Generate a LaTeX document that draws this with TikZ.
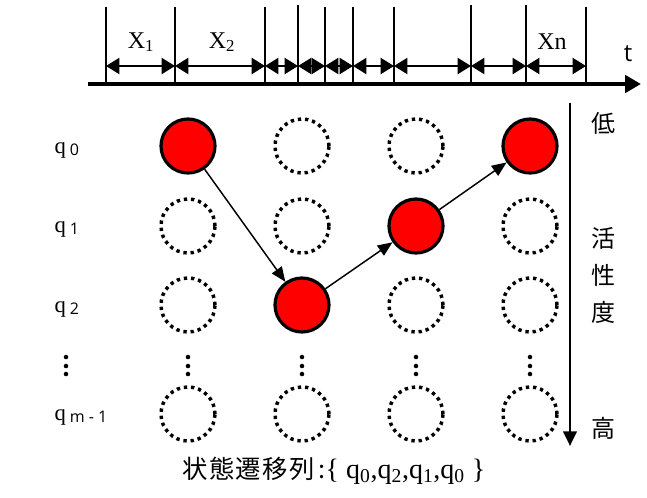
\documentclass[tikz,border=0pt]{standalone}
\usepackage{fontspec}
\setmainfont{Liberation Serif}
\setsansfont{Open Sans}
\newfontfamily\cjk{Noto Sans CJK JP}
\usetikzlibrary{arrows.meta}
\newcommand\qlab[1]{q\,\raisebox{-0.25ex}{\sffamily\fontsize{12}{14}\selectfont #1}}
\begin{document}
\begin{tikzpicture}[x=0.75pt,y=-0.75pt,font=\fontsize{17}{20}\selectfont,
timeAxis/.style={draw=black,line width=3pt,-{Triangle[length=12pt,width=13pt]}},
levelAxis/.style={draw=black,line width=2.2pt,-{Triangle[length=11pt,width=10pt]}},
tick/.style={draw=black,line width=0.9pt},
span/.style={draw=black,line width=1.5pt,{Triangle[length=10pt,width=12pt]}-{Triangle[length=10pt,width=12pt]}},
visited/.style={circle,minimum size=40.5pt,inner sep=0pt,draw=black,line width=2.4pt,fill=red},
unvisited/.style={circle,minimum size=40.5pt,inner sep=0pt,draw=black,line width=2.6pt,dash pattern=on 2.5pt off 2.9pt},
move/.style={draw=black,line width=1.1pt,-{Triangle[length=11pt,width=9pt]}},
cjkText/.style={font=\cjk\fontsize{18}{20}\selectfont}]
\path[use as bounding box] (0,0) rectangle (647,497);
% time axis and intervals
\draw[timeAxis] (88,84)--(641,84);
\draw[tick] (106,7)--(106,84);
\draw[tick] (175,7)--(175,84);
\draw[tick] (265,7)--(265,84);
\draw[tick] (298,5)--(298,84);
\draw[tick] (325,7)--(325,84);
\draw[tick] (353,7)--(353,84);
\draw[tick] (394,7)--(394,84);
\draw[tick] (471,5)--(471,84);
\draw[tick] (526,5)--(526,84);
\draw[tick] (586,7)--(586,84);
\coordinate (k0) at (106,66);
\coordinate (k1) at (175,66);
\coordinate (k2) at (265,66);
\coordinate (k3) at (298,66);
\coordinate (k4) at (325,66);
\coordinate (k5) at (353,66);
\coordinate (k6) at (394,66);
\coordinate (k7) at (471,66);
\coordinate (k8) at (526,66);
\coordinate (k9) at (586,66);
\draw[span] (k0)--(k1);
\draw[span] (k1)--(k2);
\draw[span] (k2)--(k3);
\draw[span] (k3)--(k4);
\draw[span] (k4)--(k5);
\draw[span] (k5)--(k6);
\draw[span] (k6)--(k7);
\draw[span] (k7)--(k8);
\draw[span] (k8)--(k9);
\node[font=\fontsize{18}{20}\selectfont] (xOne) at (141,42) {X\textsubscript{1}};
\node[font=\fontsize{18}{20}\selectfont] (xTwo) at (222,42) {X\textsubscript{2}};
\node[font=\fontsize{18}{20}\selectfont] (xN) at (552,42) {Xn};
\node[font=\sffamily\fontsize{18}{20}\selectfont] (tLabel) at (628,54) {t};
% state labels
\node[anchor=west] (q0) at (50,150) {\qlab{0}};
\node[anchor=west] (q1) at (50,229) {\qlab{1}};
\node[anchor=west] (q2) at (50,309) {\qlab{2}};
\node[anchor=west] (qm) at (50,417) {\qlab{m - 1}};
% states
\node[visited] (c00) at (188,146) {};
\node[unvisited] (c01) at (188,226) {};
\node[unvisited] (c02) at (188,305) {};
\node[unvisited] (c03) at (188,414) {};
\node[unvisited] (c10) at (302,146) {};
\node[unvisited] (c11) at (302,226) {};
\node[visited] (c12) at (302,305) {};
\node[unvisited] (c13) at (302,414) {};
\node[unvisited] (c20) at (416,146) {};
\node[visited] (c21) at (416,226) {};
\node[unvisited] (c22) at (416,305) {};
\node[unvisited] (c23) at (416,414) {};
\node[visited] (c30) at (530,146) {};
\node[unvisited] (c31) at (530,226) {};
\node[unvisited] (c32) at (530,305) {};
\node[unvisited] (c33) at (530,414) {};
\fill (66,357) circle[radius=1.7pt] (66,366) circle[radius=1.7pt] (66,374) circle[radius=1.7pt];
\fill (188,357) circle[radius=1.7pt] (188,366) circle[radius=1.7pt] (188,374) circle[radius=1.7pt];
\fill (302,357) circle[radius=1.7pt] (302,366) circle[radius=1.7pt] (302,374) circle[radius=1.7pt];
\fill (416,357) circle[radius=1.7pt] (416,366) circle[radius=1.7pt] (416,374) circle[radius=1.7pt];
\fill (530,357) circle[radius=1.7pt] (530,366) circle[radius=1.7pt] (530,374) circle[radius=1.7pt];
\draw[move] (c00)--(c12);
\draw[move] (c12)--(c21);
\draw[move] (c21)--(c30);
% activity scale
\coordinate (lvTop) at (570,103);
\coordinate (lvBottom) at (570,446);
\draw[levelAxis] (lvTop)--(lvBottom);
\node[cjkText] (low) at (603,123) {低};
\node[cjkText] (act1) at (603,238) {活};
\node[cjkText] (act2) at (603,275) {性};
\node[cjkText] (act3) at (603,312) {度};
\node[cjkText] (high) at (603,428) {高};
\node[font=\fontsize{21}{24}\selectfont] (caption) at (334,471) {{\cjk\fontsize{19}{22}\selectfont 状\kern1pt 態\kern1pt 遷\kern1pt 移\kern1pt 列\kern3pt :}\{ q\textsubscript{0},q\textsubscript{2},q\textsubscript{1},q\textsubscript{0} \}};
\end{tikzpicture}
\end{document}
